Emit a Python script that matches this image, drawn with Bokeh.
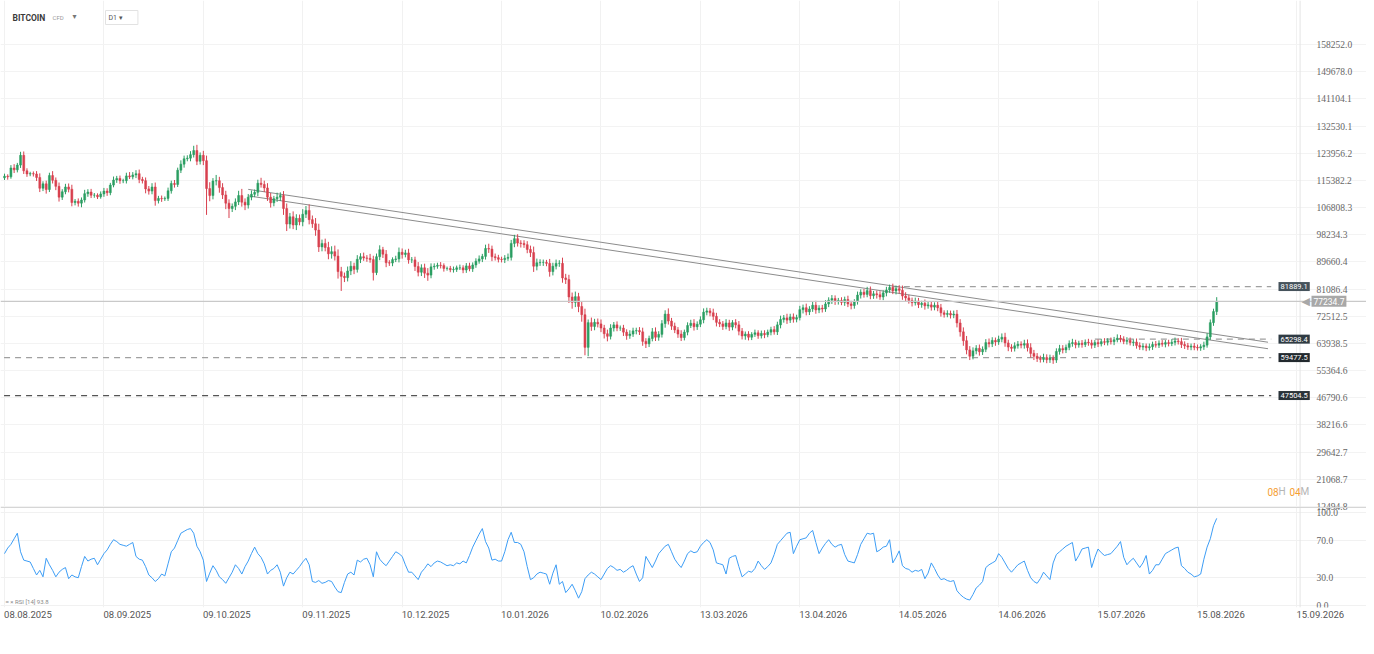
import numpy as np
import pandas as pd
from bokeh.plotting import figure
from bokeh.models import (ColumnDataSource, FixedTicker, Label, LabelSet, Span, Range1d, Grid)
from bokeh.embed import file_html
from bokeh.resources import INLINE

# ---------------- data ----------------
start_date = "2025-08-08"
first_open_k = 116.2
closes_k = [
    116.7, 116.5, 119.3, 118.7, 120.2, 123.3, 118.4, 117.4, 117.5, 117.4,
    116.3, 112.9, 114.3, 112.5, 116.9, 115.4, 113.5, 110.1, 111.8, 113.3,
    112.6, 108.4, 108.8, 108.2, 109.2, 111.2, 111.7, 110.7, 110.7, 110.2,
    111.1, 112.0, 111.5, 113.9, 115.5, 116.0, 115.3, 115.3, 116.8, 116.5,
    117.1, 117.5, 115.7, 115.3, 112.7, 112.0, 113.3, 109.0, 109.7, 109.6,
    109.7, 112.1, 114.4, 114.1, 118.6, 120.5, 122.2, 122.4, 123.5, 124.8,
    121.4, 123.3, 121.6, 112.8, 110.6, 115.2, 115.3, 113.1, 110.8, 108.2,
    106.5, 107.2, 108.6, 110.6, 108.5, 107.6, 110.1, 111.0, 111.6, 114.5,
    114.1, 113.0, 110.1, 108.3, 109.6, 110.1, 110.6, 106.5, 101.6, 103.9,
    101.3, 103.4, 102.3, 104.7, 105.9, 103.0, 101.7, 99.7, 94.4, 95.5,
    94.2, 92.2, 92.9, 91.5, 86.6, 85.1, 84.7, 86.8, 88.3, 87.3,
    90.5, 91.3, 90.9, 90.8, 90.4, 86.3, 91.3, 93.5, 92.1, 89.4,
    89.3, 90.4, 90.6, 92.7, 92.0, 92.5, 90.3, 90.3, 88.2, 86.4,
    87.8, 86.1, 85.5, 88.1, 88.3, 88.6, 88.5, 87.6, 87.6, 87.2,
    87.3, 87.8, 87.8, 87.1, 88.4, 87.5, 88.7, 89.9, 90.6, 91.4,
    93.9, 93.7, 91.3, 91.0, 90.5, 90.4, 90.8, 91.1, 95.5, 97.0,
    95.6, 95.5, 95.1, 93.6, 92.6, 88.3, 89.4, 89.5, 89.5, 89.2,
    86.6, 88.3, 89.2, 89.2, 84.6, 84.1, 78.6, 76.9, 78.7, 75.6,
    73.0, 62.7, 70.5, 69.3, 70.6, 70.1, 68.8, 67.0, 66.2, 68.8,
    69.8, 68.8, 68.8, 67.5, 66.4, 66.9, 67.9, 68.0, 67.6, 64.6,
    63.8, 65.5, 67.6, 65.9, 66.8, 70.2, 73.2, 71.0, 69.4, 68.2,
    66.9, 65.8, 67.5, 69.6, 70.3, 69.2, 70.0, 71.4, 73.8, 74.2,
    73.6, 72.5, 70.6, 70.1, 69.3, 70.4, 69.1, 70.5, 69.8, 67.8,
    66.3, 66.9, 65.9, 66.8, 67.3, 66.4, 67.1, 66.7, 67.5, 68.3,
    67.6, 69.8, 71.5, 72.0, 71.3, 72.3, 71.6, 72.1, 74.6, 75.2,
    73.9, 74.8, 76.0, 74.5, 75.1, 74.8, 76.4, 77.6, 78.1, 77.2,
    77.5, 76.9, 77.8, 76.4, 75.9, 77.1, 79.2, 80.1, 79.4, 80.6,
    79.0, 79.6, 79.3, 78.6, 79.9, 80.8, 81.6, 80.5, 81.2, 80.7,
    78.9, 78.3, 77.5, 76.8, 77.3, 76.2, 76.6, 75.8, 76.1, 75.4,
    76.0, 75.2, 73.6, 73.1, 73.4, 72.9, 73.2, 70.4, 67.6, 64.8,
    61.9, 59.9, 61.6, 62.4, 61.3, 62.1, 64.2, 63.8, 64.9, 64.4,
    65.3, 65.9, 64.1, 62.8, 62.4, 63.2, 63.7, 63.4, 63.9, 62.6,
    60.8, 59.9, 59.2, 58.9, 59.5, 58.8, 59.3, 58.7, 61.4, 62.3,
    61.9, 62.7, 63.9, 64.2, 63.5, 64.0, 63.6, 64.3, 64.1, 63.4,
    64.2, 63.8, 64.5, 64.3, 64.8, 64.5, 65.1, 65.6, 65.3, 64.6,
    64.9, 64.2, 64.4, 63.3, 62.8, 63.1, 62.6, 62.9, 63.6, 63.4,
    64.0, 63.7, 64.2, 63.9, 64.3, 64.7, 64.5, 63.6, 63.2, 62.8,
    63.1, 62.7, 62.5, 62.9, 63.4, 66.0, 70.5, 74.0, 77.2347,
]
# upper / lower wick lengths, in hundreds of USD
hi_wick = [
    8, 6, 9, 12, 7, 11, 12, 8, 6, 7,
    9, 13, 8, 10, 9, 14, 9, 12, 8, 10,
    11, 14, 7, 9, 8, 12, 9, 10, 7, 6,
    8, 10, 9, 7, 11, 8, 9, 6, 10, 12,
    9, 11, 13, 8, 10, 9, 12, 14, 8, 9,
    6, 10, 9, 11, 8, 12, 10, 9, 11, 15,
    18, 9, 14, 16, 20, 9, 18, 12, 14, 13,
    12, 9, 11, 15, 21, 12, 10, 12, 9, 11,
    17, 12, 15, 13, 9, 14, 10, 14, 16, 12,
    17, 13, 12, 16, 14, 19, 13, 18, 20, 12,
    15, 18, 17, 19, 21, 15, 12, 14, 16, 11,
    13, 11, 13, 9, 14, 12, 10, 14, 9, 13,
    8, 7, 10, 15, 12, 10, 13, 9, 10, 14,
    11, 13, 16, 11, 9, 8, 10, 7, 6, 8,
    9, 7, 10, 8, 9, 10, 8, 9, 11, 8,
    12, 15, 11, 10, 9, 8, 10, 12, 11, 12,
    14, 9, 10, 11, 12, 19, 13, 10, 9, 8,
    14, 11, 12, 10, 18, 13, 15, 14, 16, 12,
    14, 19, 10, 16, 11, 12, 14, 10, 13, 12,
    9, 11, 8, 10, 9, 12, 10, 9, 11, 13,
    10, 9, 12, 14, 10, 11, 12, 18, 10, 11,
    9, 12, 8, 10, 11, 13, 9, 11, 12, 10,
    9, 13, 11, 10, 9, 12, 10, 8, 11, 12,
    10, 8, 9, 7, 10, 8, 9, 10, 8, 9,
    11, 10, 12, 9, 13, 10, 11, 9, 12, 10,
    13, 9, 11, 14, 9, 10, 12, 9, 11, 10,
    8, 10, 9, 12, 10, 8, 11, 9, 10, 12,
    13, 9, 10, 11, 8, 10, 9, 12, 10, 11,
    15, 12, 10, 9, 11, 10, 8, 12, 9, 10,
    9, 11, 12, 8, 10, 9, 11, 13, 12, 14,
    15, 12, 11, 10, 12, 9, 11, 13, 10, 9,
    11, 12, 14, 10, 9, 11, 10, 9, 12, 13,
    14, 11, 10, 9, 12, 10, 11, 9, 10, 12,
    11, 9, 10, 12, 9, 8, 10, 9, 11, 10,
    8, 10, 9, 11, 8, 10, 9, 12, 10, 9,
    10, 9, 8, 11, 10, 9, 8, 10, 9, 11,
    9, 10, 8, 9, 10, 11, 9, 12, 10, 9,
    8, 10, 9, 8, 11, 12, 10, 9, 13,
]
lo_wick = [
    7, 9, 6, 10, 8, 9, 10, 9, 7, 8,
    11, 12, 9, 13, 8, 10, 12, 14, 9, 8,
    10, 12, 9, 11, 13, 8, 10, 9, 8, 7,
    6, 9, 10, 8, 7, 9, 10, 8, 9, 7,
    8, 10, 12, 9, 14, 11, 10, 16, 9, 10,
    7, 8, 9, 10, 8, 9, 11, 8, 10, 9,
    12, 10, 14, 83, 18, 12, 14, 16, 13, 19,
    30, 11, 12, 10, 14, 16, 11, 10, 9, 12,
    10, 13, 12, 15, 11, 10, 12, 20, 22, 14,
    13, 16, 11, 14, 12, 15, 13, 18, 16, 14,
    12, 17, 15, 14, 22, 46, 14, 12, 13, 15,
    10, 12, 9, 11, 10, 25, 8, 11, 12, 14,
    9, 10, 8, 11, 13, 9, 12, 10, 14, 13,
    12, 15, 18, 10, 9, 8, 9, 10, 7, 8,
    9, 8, 7, 10, 9, 8, 10, 9, 8, 10,
    10, 12, 14, 9, 10, 9, 11, 8, 10, 12,
    11, 13, 10, 12, 14, 18, 13, 10, 11, 9,
    16, 12, 10, 11, 15, 14, 19, 20, 15, 18,
    22, 25, 28, 14, 12, 11, 13, 15, 16, 10,
    11, 10, 9, 12, 13, 10, 9, 11, 10, 14,
    13, 10, 9, 12, 11, 10, 13, 11, 12, 10,
    12, 11, 9, 10, 8, 12, 10, 9, 11, 10,
    11, 12, 13, 10, 11, 9, 12, 10, 11, 13,
    11, 12, 10, 9, 8, 10, 9, 11, 8, 10,
    9, 10, 11, 10, 12, 9, 11, 10, 9, 12,
    11, 10, 9, 12, 10, 11, 9, 10, 12, 11,
    10, 9, 11, 10, 12, 10, 9, 11, 10, 9,
    11, 10, 12, 9, 10, 11, 9, 10, 11, 10,
    12, 11, 10, 12, 9, 11, 10, 12, 9, 11,
    10, 11, 12, 10, 9, 11, 10, 14, 15, 16,
    14, 12, 10, 11, 12, 10, 9, 11, 10, 12,
    9, 10, 12, 13, 11, 10, 9, 10, 11, 12,
    13, 12, 11, 10, 9, 11, 10, 12, 9, 10,
    11, 10, 9, 10, 11, 9, 10, 8, 9, 11,
    9, 10, 8, 9, 10, 9, 11, 8, 10, 9,
    10, 9, 11, 10, 9, 10, 11, 9, 10, 8,
    9, 8, 10, 9, 8, 10, 9, 11, 10, 9,
    10, 9, 8, 9, 10, 8, 9, 10, 11,
]
rsi_vals = [
    56, 62, 66, 72, 78, 58, 49, 48, 47, 40,
    33, 38, 31, 51, 44, 38, 31, 36, 39, 41,
    29, 33, 31, 30, 42, 53, 48, 50, 51, 44,
    50, 56, 60, 66, 71, 69, 66, 65, 64, 66,
    68, 53, 50, 49, 42, 33, 30, 26, 29, 34,
    32, 45, 58, 62, 70, 78, 80, 82, 83, 78,
    64, 58, 49, 26, 35, 43, 38, 31, 28, 24,
    30, 36, 44, 40, 34, 42, 48, 56, 63, 56,
    52, 45, 34, 38, 40, 44, 36, 21, 30, 36,
    34, 38, 42, 47, 51, 44, 26, 25, 27, 24,
    25, 27, 26, 20, 15, 14, 25, 34, 36, 33,
    49, 47, 50, 51, 44, 31, 58, 50, 46, 43,
    48, 53, 58, 56, 53, 44, 36, 36, 32, 28,
    36, 40, 45, 42, 46, 48, 47, 45, 43, 44,
    43, 46, 45, 48, 46, 54, 63, 70, 77, 83,
    69, 62, 49, 50, 48, 48, 58, 71, 79, 68,
    68, 66, 58, 42, 28, 30, 34, 36, 35, 34,
    23, 35, 44, 23, 26, 14, 18, 23, 16, 8,
    15, 29, 33, 36, 34, 31, 28, 34, 40, 43,
    41, 38, 39, 36, 38, 41, 43, 34, 26, 30,
    53, 47, 41, 48, 56, 60, 64, 66, 58, 50,
    45, 41, 48, 56, 59, 57, 58, 64, 68, 71,
    68, 60, 46, 45, 44, 34, 51, 53, 54, 42,
    31, 34, 37, 36, 40, 48, 43, 39, 42, 46,
    55, 66, 70, 74, 78, 79, 56, 64, 71, 72,
    73, 78, 81, 68, 56, 62, 67, 71, 66, 63,
    65, 66, 55, 48, 47, 46, 55, 66, 72, 78,
    77, 78, 58, 60, 63, 64, 71, 46, 52, 59,
    43, 40, 39, 36, 38, 37, 39, 29, 35, 46,
    40, 33, 28, 29, 27, 26, 27, 16, 12, 9,
    7, 6, 12, 19, 22, 26, 41, 44, 46, 48,
    56, 52, 46, 40, 36, 40, 44, 46, 48, 38,
    30, 26, 24, 29, 36, 32, 28, 46, 55, 58,
    61, 64, 66, 68, 48, 54, 61, 62, 63, 41,
    52, 61, 57, 54, 55, 56, 60, 64, 69, 52,
    44, 48, 51, 46, 41, 46, 54, 34, 38, 44,
    44, 50, 56, 58, 60, 62, 63, 43, 40, 36,
    34, 31, 32, 34, 50, 63, 72, 86, 94,
]

price_ticks = [158252.0, 149678.0, 141104.1, 132530.1, 123956.2, 115382.2, 106808.3,
               98234.3, 89660.4, 81086.4, 72512.5, 63938.5, 55364.6, 46790.6,
               38216.6, 29642.7, 21068.7, 12494.8]
rsi_ticks = [0, 30, 70, 100]
date_ticks = ["2025-08-08", "2025-09-08", "2025-10-09", "2025-11-09", "2025-12-10",
              "2026-01-10", "2026-02-10", "2026-03-13", "2026-04-13", "2026-05-14",
              "2026-06-14", "2026-07-15", "2026-08-15", "2026-09-15"]
date_labels = ["08.08.2025", "08.09.2025", "09.10.2025", "09.11.2025", "10.12.2025",
               "10.01.2026", "10.02.2026", "13.03.2026", "13.04.2026", "14.05.2026",
               "14.06.2026", "15.07.2026", "15.08.2026", "15.09.2026"]

trend_start = ["2025-10-23", "2025-10-23"]
trend_end = ["2026-09-06", "2026-09-06"]
trend_start_price = [112548, 110499]
trend_end_price = [64322, 62273]

level_values = [81889.1, 65298.4, 59477.5, 47504.5]
level_start = ["2026-05-12", "2026-07-14", "2025-08-01", "2025-08-01"]
level_end = ["2026-09-07", "2026-09-07", "2026-09-07", "2026-09-07"]
level_colors = ["#a0a0a0", "#a0a0a0", "#a0a0a0", "#555555"]
level_box = ["#46535c", "#2f3b43", "#22292e", "#2a3339"]
current_price = 77234.7

assert len(closes_k) == len(hi_wick) == len(lo_wick) == len(rsi_vals)

# ---------------- build candles ----------------
dates = pd.date_range(start_date, periods=len(closes_k), freq="D")
close = np.array(closes_k) * 1000.0
open_ = np.concatenate([[first_open_k * 1000.0], close[:-1]])
high = np.maximum(open_, close) + np.array(hi_wick) * 100.0
low = np.minimum(open_, close) - np.array(lo_wick) * 100.0
GREEN, RED = "#2b9e62", "#d8404f"
colors = np.where(close >= open_, GREEN, RED)
src = ColumnDataSource(dict(date=dates, high=high, low=low,
                            top=np.maximum(open_, close), bottom=np.minimum(open_, close),
                            color=colors))

FONT = "Roboto"
AX_FS = "9.5px"
AX_COL = "#666666"
GRID_COL = "#f1f1f1"
x_range = Range1d(start=pd.Timestamp("2025-08-06 18:00"), end=pd.Timestamp("2026-10-06 17:00"))
plot_edge = pd.Timestamp("2026-09-16")          # right border of the chart area
day_ms = 24 * 3600 * 1000
tick_ms = [pd.Timestamp(d).value / 1e6 for d in date_ticks]

# one frame: price pane on top, RSI pane (own range) at the bottom
p = figure(width=1366, height=627, x_axis_type="datetime", x_range=x_range,
           y_range=Range1d(-19368.8, 172133.6), x_axis_location="below", y_axis_location=None,
           output_backend="svg", toolbar_location=None,
           min_border_left=0, min_border_right=0, min_border_top=0, min_border_bottom=20)
p.extra_y_ranges = {"rsi": Range1d(-2.05, 652.05)}
p.outline_line_color = None
# switch off the default grids before adding the chart's own ones
for g in list(p.renderers) + list(p.center):
    if isinstance(g, Grid):
        g.visible = False
p.add_layout(Grid(dimension=0, ticker=FixedTicker(ticks=tick_ms), grid_line_color=GRID_COL))
p.add_layout(Grid(dimension=1, ticker=FixedTicker(ticks=price_ticks), grid_line_color="#f3f3f3"))
p.add_layout(Grid(dimension=1, ticker=FixedTicker(ticks=rsi_ticks), y_range_name="rsi",
                  grid_line_color=GRID_COL))
p.add_layout(Span(location=plot_edge, dimension="height", line_color="#e4e4e4", line_width=1))

# price scale labels
ptick_src = ColumnDataSource(dict(y=price_ticks, text=[f"{v:.1f}" for v in price_ticks]))
p.add_layout(LabelSet(x=1316, x_units="screen", y="y", text="text", source=ptick_src,
                      text_font=FONT, text_font_size=AX_FS, text_color=AX_COL,
                      text_baseline="middle", text_align="left"))
# RSI scale labels
rtick_src = ColumnDataSource(dict(y=rsi_ticks, text=[f"{v:.1f}" for v in rsi_ticks]))
p.add_layout(LabelSet(x=1316, x_units="screen", y="y", y_range_name="rsi", text="text",
                      source=rtick_src, text_font=FONT, text_font_size=AX_FS,
                      text_color=AX_COL, text_baseline="middle", text_align="left"))

# level lines
p.add_layout(Span(location=current_price, dimension="width", line_color="#c9c9c9", line_width=1.2))
lv = ColumnDataSource(dict(x0=pd.to_datetime(level_start), x1=pd.to_datetime(level_end),
                           y=level_values, color=level_colors))
p.segment(x0="x0", x1="x1", y0="y", y1="y", source=lv, line_color="color",
          line_width=1.3, line_dash="6 5")
# trend lines
tr = ColumnDataSource(dict(x0=pd.to_datetime(trend_start), x1=pd.to_datetime(trend_end),
                           y0=trend_start_price, y1=trend_end_price))
p.segment(x0="x0", x1="x1", y0="y0", y1="y1", source=tr, line_color="#8c8c8c", line_width=1)

# candles
p.segment(x0="date", x1="date", y0="high", y1="low", source=src, line_color="color", line_width=1)
p.vbar(x="date", width=0.62 * day_ms, top="top", bottom="bottom", source=src,
       fill_color="color", line_color="color", line_width=0.5)

# pane separator
p.add_layout(Span(location=12180, dimension="width", line_color="#d6d6d6", line_width=1))

# RSI line
rsrc = ColumnDataSource(dict(date=dates, rsi=rsi_vals))
p.line(x="date", y="rsi", source=rsrc, y_range_name="rsi", line_color="#3d9df5", line_width=1)

# level labels
for val, bc in zip(level_values, level_box):
    p.add_layout(Label(x=1278, y=val, x_units="screen", y_units="data", text=f"{val:.1f}",
                       text_font=FONT, text_font_size="7.5px", text_color="white",
                       text_baseline="middle", text_align="left",
                       background_fill_color=bc, padding=2))
p.add_layout(Label(x=1301, y=current_price, x_units="screen", text="\u25C0",
                   text_font="DejaVu Sans", text_font_size="11px", text_color="#a8a8a8",
                   text_baseline="middle", text_align="left"))
p.add_layout(Label(x=1311, y=current_price, x_units="screen", text=f"{current_price:.1f}",
                   text_font=FONT, text_font_size="8.5px", text_color="white",
                   text_baseline="middle", text_align="left",
                   background_fill_color="#a8a8a8", padding=2))

# countdown
for xx, t, c in [(1267, "08", "#f5a033"), (1278, "H", "#b5b5b5"),
                 (1289, "04", "#f5a033"), (1300, "M", "#b5b5b5")]:
    p.add_layout(Label(x=xx, y=116, x_units="screen", y_units="screen", text=t,
                       text_font=FONT, text_font_size="10px", text_color=c,
                       text_baseline="middle", text_align="left"))

# header
p.add_layout(Label(x=12, y=590, x_units="screen", y_units="screen", text="BITCOIN",
                   text_font=FONT, text_font_style="bold", text_font_size="8.5px",
                   text_color="#3a3a3a", text_baseline="middle"))
p.add_layout(Label(x=52, y=590, x_units="screen", y_units="screen", text="CFD",
                   text_font=FONT, text_font_size="6px", text_color="#9a9a9a",
                   text_baseline="middle"))
p.add_layout(Label(x=72, y=591, x_units="screen", y_units="screen", text="\u25BE",
                   text_font="DejaVu Sans", text_font_size="8px", text_color="#777777",
                   text_baseline="middle"))
p.add_layout(Label(x=105, y=590, x_units="screen", y_units="screen", text="D1        \u25BE",
                   text_font=FONT, text_font_size="7px", text_color="#555555",
                   text_baseline="middle", background_fill_color="white",
                   border_line_color="#e2e2e2", padding=3))

# RSI legend
p.add_layout(Label(x=5, y=6, x_units="screen", y_units="screen",
                   text="\u2261 \u00D7 RSI [14] 93.8", text_font=FONT, text_font_size="6px",
                   text_color="#8a8a8a", text_baseline="middle"))

# x axis: labels start at their gridline, so each tick sits half a label width to the right
label_shift_days = 7.3
lab_ticks = [t + label_shift_days * day_ms for t in tick_ms]
p.xaxis.ticker = FixedTicker(ticks=lab_ticks)
p.xaxis.major_label_overrides = {t: s for t, s in zip(lab_ticks, date_labels)}
p.xaxis.major_label_text_font = FONT
p.xaxis.major_label_text_font_size = AX_FS
p.xaxis.major_label_text_color = "#555555"
p.xaxis.major_tick_line_color = None
p.xaxis.minor_tick_line_color = None
p.xaxis.axis_line_color = None
p.xaxis.major_tick_out = 0
p.xaxis.major_tick_in = 0
p.xaxis.major_label_standoff = 3

open("out.html", "w").write(file_html(p, INLINE))
